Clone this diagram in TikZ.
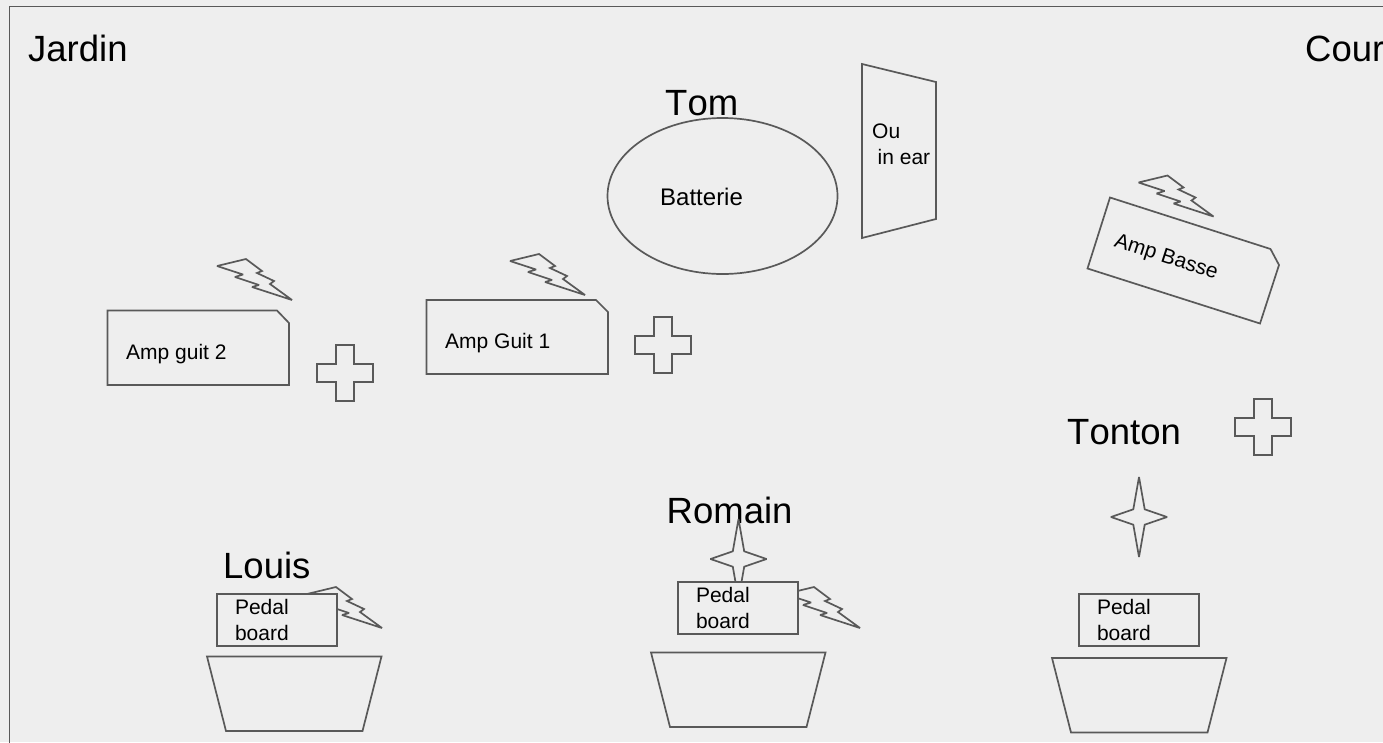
\documentclass[tikz,border=0pt]{standalone}
\usepackage{fontspec}
\setmainfont{Liberation Sans}[Kerning=Off]
\usetikzlibrary{positioning,shapes.geometric}
\definecolor{stagebg}{HTML}{EEEEEE}
\definecolor{stageline}{HTML}{595959}
\tikzset{
  outline/.style={draw=stageline,line width=1.7pt,line join=miter,miter limit=3},
  big/.style={font=\fontsize{36.5}{40}\selectfont,inner sep=0pt,anchor=base west},
  small/.style={font=\fontsize{21}{26}\selectfont,inner sep=0pt,anchor=base west},
  pedal/.style={outline,fill=stagebg,minimum width=120pt,minimum height=52pt,inner sep=0pt,
    text width=84pt,align=left,font=\fontsize{21}{26}\selectfont},
  bolt/.pic={\draw[outline] (0,0) -- (29,-7) -- (45,5) -- (40,7) -- (57,15) -- (53,18) -- (75,34)
    -- (35,21) -- (42,19) -- (18,11) -- (26,8.5) -- cycle;},
  cross/.pic={\draw[outline] (-9,-28) -- (9,-28) -- (9,-9) -- (28,-9) -- (28,9) -- (9,9) -- (9,28)
    -- (-9,28) -- (-9,9) -- (-28,9) -- (-28,-9) -- (-9,-9) -- cycle;},
  sparkle/.pic={\draw[outline] (0,-40) -- (5.7,-7.7) -- (28,0) -- (5.7,7.7) -- (0,40) -- (-5.7,7.7)
    -- (-28,0) -- (-5.7,-7.7) -- cycle;},
  wedge/.pic={\draw[outline] (0,0) -- (174.5,0) -- (155.5,74.5) -- (19,74.5) -- cycle;},
}
\begin{document}
\begin{tikzpicture}[x=1pt,y=-1pt]
\path[use as bounding box,fill=stagebg] (0,0) rectangle (1383,742);
\draw[outline] (9.5,750) -- (9.5,6.5) -- (1390,6.5);

% corners of the stage
\node[big] (jardin) at (28,61) {Jardin};
\node[big] (cour) at (1305,61) {Cour};

% drums
\node[outline,ellipse,minimum width=230pt,minimum height=156pt,inner sep=0pt] (drums) at (722.5,196) {};
\node[big] (tom) at (665,115) {Tom};
\node[small,font=\fontsize{24}{26}\selectfont] (batterie) at (660,205) {Batterie};
\draw[outline] (862,64) -- (936,82) -- (936,219) -- (862,238) -- cycle;
\node[small,align=left,anchor=north west] (inear) at (872,124) {Ou\\\hspace*{5.5pt}in ear};

% amps
\pic at (217,266) {bolt};
\draw[outline] (107.5,310.5) -- (277,310.5) -- (289,323) -- (289,385) -- (107.5,385) -- cycle;
\node[small] (ampguit2) at (126,359.5) {Amp guit 2};
\pic at (345,373) {cross};

\pic at (510,261) {bolt};
\draw[outline] (426.5,300) -- (596,300) -- (608,312) -- (608,374) -- (426.5,374) -- cycle;
\node[small] (ampguit1) at (445,348) {Amp Guit 1};
\pic at (663,345) {cross};

\pic at (1138.5,182.5) {bolt};
\draw[outline] (1110,197.5) -- (1270.5,249) -- (1279,265) -- (1260,323.5) -- (1087.5,268.5) -- cycle;
\node[small,anchor=center,rotate=-18] (ampbasse) at (1166,258) {Amp Basse};

% Louis
\node[big] (louis) at (223,578) {Louis};
\pic at (307,594) {bolt};
\node[pedal] (boardlouis) at (277,620) {Pedal\\board};
\pic at (207,656.5) {wedge};

% Romain
\node[big] (romain) at (666.5,523) {Romain};
\pic at (738.5,559) {sparkle};
\pic at (785,594) {bolt};
\node[pedal] (boardromain) at (738,608) {Pedal\\board};
\pic at (651,652.5) {wedge};

% Tonton
\node[big] (tonton) at (1067,444.5) {Tonton};
\pic at (1263,427) {cross};
\pic at (1139,517) {sparkle};
\node[pedal] (boardtonton) at (1139,620) {Pedal\\board};
\pic at (1052,658) {wedge};
\end{tikzpicture}
\end{document}
